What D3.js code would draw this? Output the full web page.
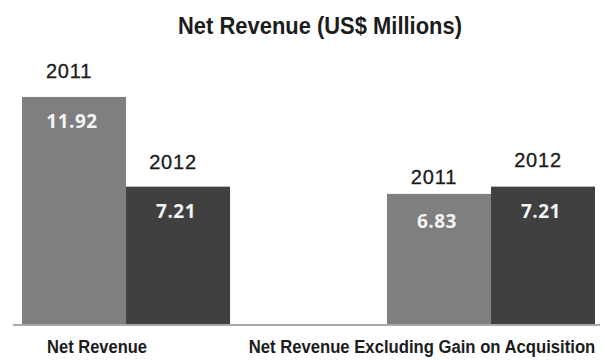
<!DOCTYPE html>
<html>
<head>
<meta charset="utf-8">
<script src="https://cdn.jsdelivr.net/npm/d3@7"></script>
<style>
  html, body { margin: 0; padding: 0; background: #fff; }
  svg { display: block; }
  .title, .cat { font-family: "Liberation Sans", Arial, sans-serif; font-weight: bold; fill: #1c1c1c; }
  .year { font-family: "Liberation Sans", Arial, sans-serif; fill: #1a1a1a; }
  .val { font-family: "Open Sans", "Liberation Sans", sans-serif; font-weight: bold; fill: #f4f4f4; }
</style>
</head>
<body>
<script>
// Net revenue by category and year (US$ millions)
const categories = ["Net Revenue", "Net Revenue Excluding Gain on Acquisition"];
const years = ["2011", "2012"];
const values2011 = [11.92, 6.83];
const values2012 = [7.21, 7.21];
const yearColors = ["#7f7f7f", "#404040"];

const W = 605, H = 360;
const svg = d3.select("body").append("svg").attr("width", W).attr("height", H);

const x = d3.scaleBand().domain(categories).range([22, 595]).paddingInner(0.43).paddingOuter(0);
const xs = d3.scaleBand().domain(years).range([0, x.bandwidth()]).padding(0);
const y = d3.scaleLinear().domain([0, 12]).range([324, 95.4]);
const color = d3.scaleOrdinal().domain(years).range(yearColors);

const rows = [];
categories.forEach((c, i) => {
  rows.push({ cat: c, year: "2011", value: values2011[i], idx: rows.length });
  rows.push({ cat: c, year: "2012", value: values2012[i], idx: rows.length });
});

// squeeze a bold label horizontally so it reads as a condensed face
function condense(sel, cxPos, baseY, width) {
  sel.each(function (d, i) {
    const t = d3.select(this);
    const natural = this.getComputedTextLength();
    const k = width(d, i) / natural;
    t.attr("x", 0).attr("y", 0)
     .attr("transform", `translate(${cxPos(d, i)},${baseY}) scale(${k},1)`);
  });
}

svg.append("text").attr("class", "title")
  .attr("text-anchor", "middle")
  .style("font-size", "23px")
  .text("Net Revenue (US$ Millions)")
  .call(condense, () => 320, 34, () => 284);

const cx = d => x(d.cat) + xs(d.year) + xs.bandwidth() / 2;

svg.selectAll("rect.bar").data(rows).enter().append("rect")
  .attr("class", "bar")
  .attr("x", d => x(d.cat) + xs(d.year))
  .attr("width", xs.bandwidth())
  .attr("y", d => y(d.value))
  .attr("height", d => y(0) - y(d.value))
  .attr("fill", d => color(d.year));

// baseline rule
svg.append("line")
  .attr("x1", x.range()[0] - 9).attr("x2", x.range()[1] + 5)
  .attr("y1", y(0) + 1).attr("y2", y(0) + 1)
  .attr("stroke", "#a8a8a8").attr("stroke-width", 2);

// year captions sit above each bar
const yearLift = [19, 18, 10, 20];
svg.selectAll("text.year").data(rows).enter().append("text")
  .attr("class", "year")
  .attr("x", d => cx(d) - 5)
  .attr("y", d => y(d.value) - yearLift[d.idx])
  .attr("text-anchor", "middle")
  .style("font-size", "20px")
  .style("letter-spacing", "0.8px")
  .style("stroke", "#1a1a1a").style("stroke-width", "0.3px")
  .text(d => d.year);

// value labels inside bars
svg.selectAll("text.val").data(rows).enter().append("text")
  .attr("class", "val")
  .attr("x", d => cx(d) - 2)
  .attr("y", d => y(d.value) + (d.idx === 2 ? 34 : 31))
  .attr("text-anchor", "middle")
  .style("font-size", "19px")
  .style("letter-spacing", "0.5px")
  .text(d => d.value.toFixed(2));

// category captions under the baseline
const catShift = [-29, -69];
const catWidth = [100, 347];
svg.selectAll("text.cat").data(categories).enter().append("text")
  .attr("class", "cat")
  .attr("text-anchor", "middle")
  .style("font-size", "19px")
  .text(d => d)
  .call(condense, (d, i) => x(d) + x.bandwidth() / 2 + catShift[i], 353, (d, i) => catWidth[i]);
</script>
</body>
</html>
